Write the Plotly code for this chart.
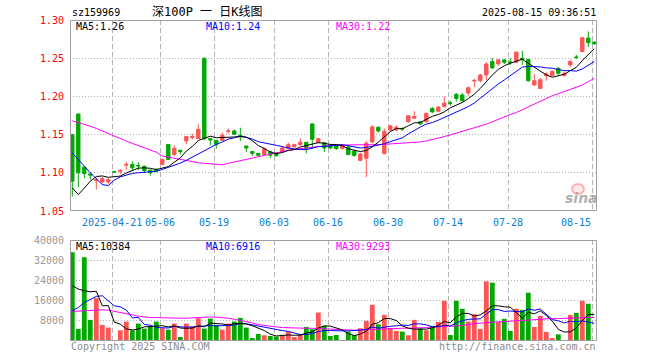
import plotly.graph_objects as go

# ---------------- data ----------------
opens = [1.150,1.177,1.1075,1.0985,1.090,1.088,1.088,1.1015,1.102,1.110,
         1.111,1.1097,1.1085,1.1035,1.1045,1.111,1.137,1.124,1.1295,1.1417,
         1.146,1.1447,1.25,1.1447,1.1425,1.1425,1.154,1.1548,1.149,1.135,
         1.128,1.1255,1.124,1.1276,1.1255,1.1276,1.1316,1.134,1.1368,1.140,
         1.164,1.1395,1.1395,1.136,1.135,1.1316,1.1338,1.1285,1.1162,1.119,
         1.1404,1.1596,1.1254,1.1561,1.1561,1.158,1.1667,1.1715,1.1667,1.167,
         1.1842,1.1807,1.1868,1.1915,1.2026,1.2018,1.2044,1.2202,1.2206,1.228,
         1.2456,1.2425,1.2478,1.245,1.2447,1.250,1.2482,1.2149,1.2105,1.227,
         1.2272,1.2368,1.2272,1.2412,1.2515,1.2588,1.2763,1.2711]
highs = [1.151,1.177,1.1075,1.0995,1.0935,1.0947,1.093,1.1018,1.105,1.114,
         1.115,1.114,1.1097,1.104,1.106,1.1185,1.137,1.136,1.130,1.148,
         1.1513,1.1636,1.25,1.1455,1.1425,1.1526,1.158,1.1565,1.159,1.1355,
         1.1285,1.126,1.133,1.128,1.1265,1.135,1.1395,1.138,1.145,1.140,
         1.164,1.1456,1.140,1.137,1.136,1.137,1.136,1.130,1.1263,1.1417,
         1.1623,1.1605,1.158,1.1627,1.1623,1.1596,1.1755,1.1807,1.168,1.179,
         1.186,1.1877,1.200,1.1943,1.2044,1.2044,1.213,1.2228,1.2294,1.2447,
         1.250,1.2491,1.2491,1.250,1.2588,1.2596,1.2491,1.2294,1.2237,1.2316,
         1.2338,1.2382,1.2325,1.2482,1.2544,1.2776,1.2851,1.272]
lows = [1.069,1.081,1.093,1.091,1.078,1.086,1.085,1.100,1.098,1.104,
        1.102,1.1035,1.100,1.0965,1.1005,1.110,1.117,1.122,1.124,1.1373,
        1.1439,1.1446,1.1425,1.136,1.1316,1.1417,1.1513,1.1495,1.1417,1.127,
        1.122,1.122,1.1228,1.119,1.121,1.126,1.1307,1.133,1.135,1.1254,
        1.1316,1.1386,1.127,1.131,1.130,1.131,1.1228,1.121,1.1154,1.0943,
        1.1386,1.1526,1.124,1.1548,1.1544,1.1548,1.1658,1.170,1.1623,1.1658,
        1.178,1.179,1.1855,1.1877,1.193,1.193,1.2009,1.2118,1.2184,1.2215,
        1.236,1.2403,1.2425,1.2412,1.2438,1.2412,1.2193,1.214,1.2096,1.2206,
        1.2263,1.228,1.2263,1.2382,1.2491,1.2579,1.2645,1.2675]
closes = [1.089,1.100,1.099,1.097,1.091,1.0925,1.091,1.101,1.103,1.111,
          1.1065,1.109,1.103,1.100,1.1025,1.1175,1.1175,1.132,1.1276,1.1474,
          1.1474,1.157,1.1447,1.143,1.1373,1.149,1.1548,1.1504,1.147,1.1325,
          1.1255,1.123,1.1316,1.123,1.1225,1.1325,1.1368,1.1368,1.140,1.132,
          1.1439,1.1447,1.1325,1.1325,1.1316,1.136,1.124,1.1228,1.1246,1.1386,
          1.160,1.1548,1.1544,1.1614,1.1596,1.1575,1.1746,1.1737,1.164,1.1776,
          1.1798,1.186,1.1912,1.191,1.1974,1.1943,1.2114,1.221,1.228,1.2425,
          1.2373,1.2478,1.2447,1.2447,1.2579,1.2482,1.2206,1.2206,1.2219,1.2294,
          1.2329,1.2303,1.2303,1.2456,1.251,1.2768,1.2702,1.2689]
volumes = [35165,4777,33175,8360,16985,6370,5308,400,4246,7697,
           4246,6900,4910,5706,7697,5043,4512,6900,1592,6900,
           5706,9024,4910,8891,6370,4512,6900,7697,9156,5308,
           1194,2787,2256,1990,1725,2256,3716,1592,2500,5573,
           4646,11280,5970,1990,2390,400,3716,2256,5043,7960,
           14330,6635,10350,5175,3981,3716,2256,8360,5043,4246,
           5970,7564,15924,2390,15924,12739,7697,10616,4777,23620,
           23090,7564,8758,3981,12739,12341,19109,5573,9953,3583,
           1194,2654,400,10350,11147,15924,14730,265]

ma5_head = [1.0803,1.0715,1.080,1.089]
ma10_head = [1.126,1.1167,1.1088,1.100,1.0921,1.0846,1.0833,1.0904,1.0947]
ma30 = [1.168,1.166,1.1635,1.161,1.158,1.1545,1.151,1.1475,1.1445,1.1415,
        1.1385,1.1355,1.1325,1.1295,1.127,1.122,1.1205,1.119,1.1172,1.1154,
        1.114,1.1132,1.1123,1.1118,1.111,1.1105,1.1125,1.1145,1.116,1.1175,
        1.1193,1.121,1.1232,1.125,1.1268,1.128,1.1294,1.1307,1.1316,1.1329,
        1.1338,1.1346,1.1355,1.136,1.1364,1.1364,1.1364,1.1364,1.136,1.136,
        1.1364,1.1368,1.1373,1.1377,1.1382,1.1386,1.139,1.1395,1.1404,1.1417,
        1.1434,1.1452,1.1474,1.1496,1.1518,1.154,1.1561,1.1588,1.1614,1.1636,
        1.1667,1.1702,1.1732,1.1763,1.1789,1.1825,1.1868,1.1899,1.1943,1.1974,
        1.2009,1.2035,1.2061,1.2088,1.2118,1.2149,1.2193,1.2237]
vol_ma5_head = [21900,20570,19900,19500]
vol_ma10_head = [11940,13270,15260,16590,17650,17915,15924,13930,13535]
vol_ma30 = [11680,11810,11940,12210,12340,12340,12210,11810,11410,10880,
            10350,9820,9420,9290,9290,9160,9160,9020,9020,9020,
            9160,9420,9550,9550,9420,9290,9020,8630,8230,7700,
            7170,6500,6100,5840,5570,5310,5180,5040,5040,5040,
            5040,4910,4640,4640,4510,4510,4380,4250,4380,4510,
            4640,4780,4910,5040,5040,5040,5040,5040,5180,5310,
            5570,5710,5840,5840,5840,6100,6640,6900,7170,7300,
            7430,7560,7700,7830,8090,8360,8490,8630,8760,8890,
            8890,8890,9020,9020,9160,9290,9290,9290]

tick_idx = [7, 15, 24, 34, 43, 53, 63, 73, 87]
tick_labels = ["2025-04-21", "05-06", "05-19", "06-03", "06-16", "06-30", "07-14", "07-28", "08-15"]
price_ticks = [1.30, 1.25, 1.20, 1.15, 1.10, 1.05]
vol_ticks = [40000, 32000, 24000, 16000, 8000]

code = "sz159969"
title = "深100P 一 日K线图"
stamp = "2025-08-15 09:36:51"
ma_price_labels = ["MA5:1.26", "MA10:1.24", "MA30:1.22"]
ma_vol_labels = ["MA5:10384", "MA10:6916", "MA30:9293"]


def moving(vals, n, head):
    out = list(head)
    for i in range(len(head), len(vals)):
        out.append(sum(vals[i - n + 1:i + 1]) / n)
    return out


ma5 = moving(closes, 5, ma5_head)
ma10 = moving(closes, 10, ma10_head)
vol_ma5 = moving(volumes, 5, vol_ma5_head)
vol_ma10 = moving(volumes, 10, vol_ma10_head)

# ---------------- style ----------------
W, H = 660, 360
L, R = 70, 597
MT, MB = 20, 211
VT, VB = 240, 341
RED = "#ff5454"
GREEN = "#00a800"
MONO = "DejaVu Sans Mono, Liberation Mono, monospace"
FRAME = "#a0a0a0"
GRID = "#b4b4b4"

def px(x):
    return x / W

def py(y):
    return 1 - y / H

n = len(closes)
idx = list(range(n))
xr = [-0.383, 87.45]
grid_x = [t - 0.33 for t in tick_idx]
vol_colors = [RED if c > o else GREEN for o, c in zip(opens, closes)]

fig = go.Figure()
fig.add_trace(go.Candlestick(
    x=idx, open=opens, high=highs, low=lows, close=closes,
    increasing=dict(line=dict(color=RED, width=1), fillcolor=RED),
    decreasing=dict(line=dict(color=GREEN, width=1), fillcolor=GREEN),
    whiskerwidth=0, xaxis="x", yaxis="y", hoverinfo="skip"))
for vals, col in [(ma30, "#ff00ff"), (ma10, "#0000ff"), (ma5, "#000000")]:
    fig.add_trace(go.Scatter(x=idx, y=vals, mode="lines", line=dict(color=col, width=1),
                             xaxis="x", yaxis="y", hoverinfo="skip"))
fig.add_trace(go.Bar(x=idx, y=volumes, marker=dict(color=vol_colors, line=dict(width=0)),
                     xaxis="x2", yaxis="y2", hoverinfo="skip"))
for vals, col in [(vol_ma30, "#ff00ff"), (vol_ma10, "#0000ff"), (vol_ma5, "#000000")]:
    fig.add_trace(go.Scatter(x=idx, y=vals, mode="lines", line=dict(color=col, width=1),
                             xaxis="x2", yaxis="y2", hoverinfo="skip"))

axis_common = dict(showline=False, zeroline=False, ticks="", showticklabels=False, fixedrange=True)
fig.update_layout(
    width=W, height=H, margin=dict(l=0, r=0, t=0, b=0),
    paper_bgcolor="white", plot_bgcolor="white", showlegend=False,
    bargap=0.2, boxgap=0.2,
    xaxis=dict(domain=[px(L), px(R)], range=xr, anchor="y", tickvals=grid_x,
               showgrid=True, gridcolor=GRID, griddash="5px,3px", gridwidth=1,
               rangeslider=dict(visible=False), **axis_common),
    yaxis=dict(domain=[py(MB), py(MT)], range=[1.05, 1.30], anchor="x",
               tickvals=price_ticks[1:-1], showgrid=True, gridcolor=GRID,
               griddash="1px,2px", gridwidth=1, **axis_common),
    xaxis2=dict(domain=[px(L), px(R)], range=xr, anchor="y2", tickvals=grid_x,
                showgrid=True, gridcolor=GRID, griddash="5px,3px", gridwidth=1, **axis_common),
    yaxis2=dict(domain=[py(VB), py(VT)], range=[0, 40000], anchor="x2",
                tickvals=vol_ticks[1:], showgrid=True, gridcolor=GRID,
                griddash="1px,2px", gridwidth=1, **axis_common),
)

shapes = []
for top, bot in [(MT, MB), (VT, VB)]:
    shapes.append(dict(type="rect", xref="paper", yref="paper",
                       x0=px(L + 0.5), x1=px(R - 0.5), y0=py(bot - 0.5), y1=py(top + 0.5),
                       line=dict(color=FRAME, width=1), fillcolor="rgba(0,0,0,0)"))
# sina watermark eye
shapes.append(dict(type="circle", xref="paper", yref="paper",
                   x0=px(572), x1=px(584), y0=py(194), y1=py(184),
                   line=dict(color="rgba(255,120,120,0.55)", width=2), fillcolor="rgba(255,180,180,0.3)"))
fig.update_layout(shapes=shapes)

ann = []
def text(x, y, s, color="#000", size=10, anchor="left", family=MONO, **kw):
    ann.append(dict(xref="paper", yref="paper", x=px(x), y=py(y), text=s, showarrow=False,
                    xanchor=anchor, yanchor="middle", font=dict(family=family, size=size, color=color, **kw)))

text(L, 12.5, code)
text(207, 12.5, title, size=12, anchor="center", family="DejaVu Sans Mono, Noto Sans CJK SC")
text(R + 1, 12.5, stamp, anchor="right")

for s, x, col in zip(ma_price_labels, [74, 204, 334], ["#000000", "#0000ff", "#ff00ff"]):
    text(x, 26.5, s, color=col)
for s, x, col in zip(ma_vol_labels, [74, 204, 334], ["#000000", "#0000ff", "#ff00ff"]):
    text(x, 246, s, color=col)

for v in price_ticks:
    yy = MB - (v - 1.05) / 0.25 * (MB - MT)
    text(66, yy, f"{v:.2f}", color="#ff0000", anchor="right")
for v in vol_ticks:
    yy = VB - v / 40000 * (VB - VT)
    text(66, yy, str(v), color="#9a9a9a", anchor="right")

xscale = (R - L) / (xr[1] - xr[0])
for t, lab in zip(tick_idx, tick_labels):
    gx = L + (t - 0.33 - xr[0]) * xscale
    if gx + len(lab) * 3 > R - 2:
        text(gx + 1, 222, lab, color="#0a7ed4", anchor="right")
    else:
        text(gx, 222, lab, color="#0a7ed4", anchor="center")

text(L - 1, 346.5, "Copyright 2025 SINA.COM", color="#8c8c8c")
text(R + 1, 346.5, "http://finance.sina.com.cn", color="#8c8c8c", anchor="right")
text(581, 198, "sina", color="rgba(150,150,150,0.75)", size=14, anchor="center",
     family="DejaVu Sans", style="italic", weight="bold")

fig.update_layout(annotations=ann)

fig.write_html("out.html", config={"displayModeBar": False, "staticPlot": True},
               post_script="document.body.style.margin='0';document.body.style.padding='0';")
